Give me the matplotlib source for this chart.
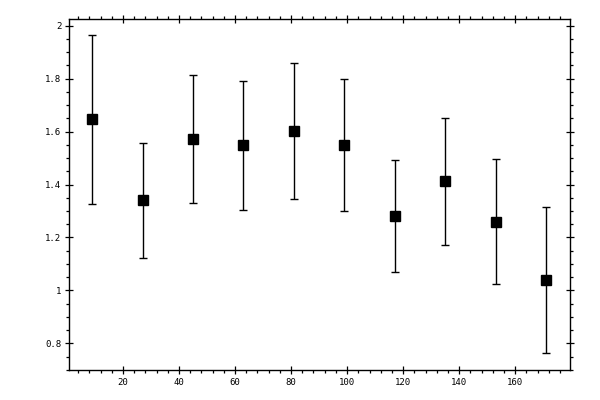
import matplotlib
matplotlib.use('Agg')
import matplotlib.pyplot as plt
from matplotlib.ticker import MultipleLocator, FormatStrFormatter

# bin centres and mean values with their errors
x_vals = [9, 27, 45, 63, 81, 99, 117, 135, 153, 171]
y_vals = [1.646, 1.341, 1.572, 1.548, 1.602, 1.549, 1.280, 1.413, 1.260, 1.038]
y_err = [0.319, 0.217, 0.241, 0.244, 0.257, 0.250, 0.212, 0.240, 0.236, 0.276]

fig = plt.figure(figsize=(6, 4), dpi=100)
ax = fig.add_axes([0.1155, 0.075, 0.835, 0.877])

ax.errorbar(x_vals, y_vals, yerr=y_err, fmt='s', color='black', markersize=6.5,
            elinewidth=1.0, capsize=2.8, capthick=1.0)

ax.set_xlim(0.8, 179.7)
ax.set_ylim(0.699, 2.025)

ax.xaxis.set_major_locator(MultipleLocator(20))
ax.xaxis.set_minor_locator(MultipleLocator(4))
ax.yaxis.set_major_locator(MultipleLocator(0.2))
ax.yaxis.set_minor_locator(MultipleLocator(0.05))
ax.yaxis.set_major_formatter(FormatStrFormatter('%g'))

for side in ax.spines.values():
    side.set_linewidth(1.0)

ax.tick_params(which='major', direction='inout', length=5.4, width=0.9,
               top=True, right=True, labelsize=6.5, pad=3)
ax.tick_params(which='minor', direction='out', length=2.4, width=0.9,
               top=True, right=True)
for lab in ax.get_xticklabels() + ax.get_yticklabels():
    lab.set_family('DejaVu Sans Mono')

fig.savefig('out.png', dpi=100)
